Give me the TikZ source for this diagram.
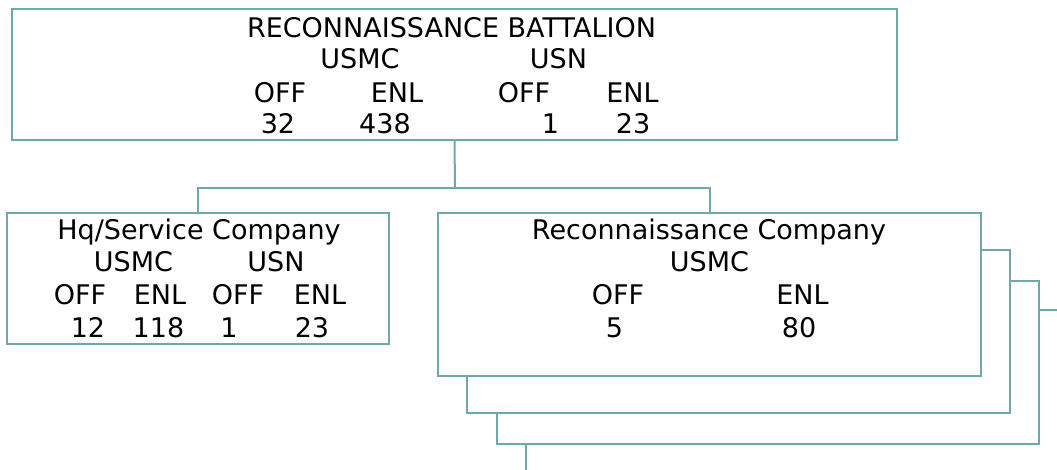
\documentclass[tikz,border=0pt]{standalone}
\usepackage{fontspec}
\setmainfont{DejaVu Sans}
\usepackage{tikz}
\usetikzlibrary{calc}
\definecolor{orgline}{RGB}{111,168,172}

\begin{document}
\begin{tikzpicture}[x=1pt,y=-1pt,
    unit/.style={draw=orgline, line width=2pt, fill=white, rectangle, inner sep=0pt},
    lbl/.style={anchor=base, inner sep=0pt, font=\fontsize{27}{32}\selectfont},
    link/.style={draw=orgline, line width=2pt}]
            \useasboundingbox (0,0) rectangle (1057,470);

            % boxes
            \node[unit, minimum width=885pt, minimum height=131pt] (bn) at (454.5,74.5) {};
            \node[unit, minimum width=382pt, minimum height=131pt] (hq) at (198,278.5) {};
            \node[unit, minimum width=542pt, minimum height=163pt] (rc3) at (768,362.5) {};
            \node[unit, minimum width=543pt, minimum height=163pt] (rc2) at (738.5,331.5) {};
            \node[unit, minimum width=543pt, minimum height=163pt] (rc) at (709.5,294.5) {};

            \coordinate (bus) at (455,188);
            \coordinate (tail) at (526,470);
            \coordinate (side) at (1057,310);

            \draw[link] (bn.south) -- (bus);
            \draw[link] (hq.north) |- (bus) -| (rc.north);
            \draw[link] (tail) -- (tail |- rc3.south);
            \draw[link] (rc3.east |- side) -- (side);

            % battalion
            \node[lbl] (bnname) at (451.5,37.5) {RECONNAISSANCE BATTALION};
            \node[lbl] (bnmc) at (360,69) {USMC};
            \node[lbl] (bnn) at (558.5,69) {USN};
            \node[lbl] (bnmcoff) at (280,102.5) {OFF};
            \node[lbl] (bnmcenl) at (397,102.5) {ENL};
            \node[lbl] (bnnoff) at (524,102.5) {OFF};
            \node[lbl] (bnnenl) at (632.5,102.5) {ENL};
            \node[lbl] (bnmcoffn) at (278,134) {32};
            \node[lbl] (bnmcenln) at (385,134) {438};
            \node[lbl] (bnnoffn) at (550.5,134) {1};
            \node[lbl] (bnnenln) at (633,134) {23};

            % hq/service
            \node[lbl] (hqname) at (199,240) {Hq/Service Company};
            \node[lbl] (hqmc) at (133.5,272) {USMC};
            \node[lbl] (hqn) at (276,272) {USN};
            \node[lbl] (hqmcoff) at (80,305) {OFF};
            \node[lbl] (hqmcenl) at (160,305) {ENL};
            \node[lbl] (hqnoff) at (238,305) {OFF};
            \node[lbl] (hqnenl) at (320,305) {ENL};
            \node[lbl] (hqmcoffn) at (88,337) {12};
            \node[lbl] (hqmcenln) at (158.5,337) {118};
            \node[lbl] (hqnoffn) at (229,337) {1};
            \node[lbl] (hqnenln) at (312,337) {23};

            % recon company
            \node[lbl] (rcname) at (709,240) {Reconnaissance Company};
            \node[lbl] (rcmc) at (709.5,272) {USMC};
            \node[lbl] (rcoff) at (618,305) {OFF};
            \node[lbl] (rcenl) at (802.5,305) {ENL};
            \node[lbl] (rcoffn) at (614.5,337) {5};
            \node[lbl] (rcenln) at (799,337) {80};

        \end{tikzpicture}
\end{document}
